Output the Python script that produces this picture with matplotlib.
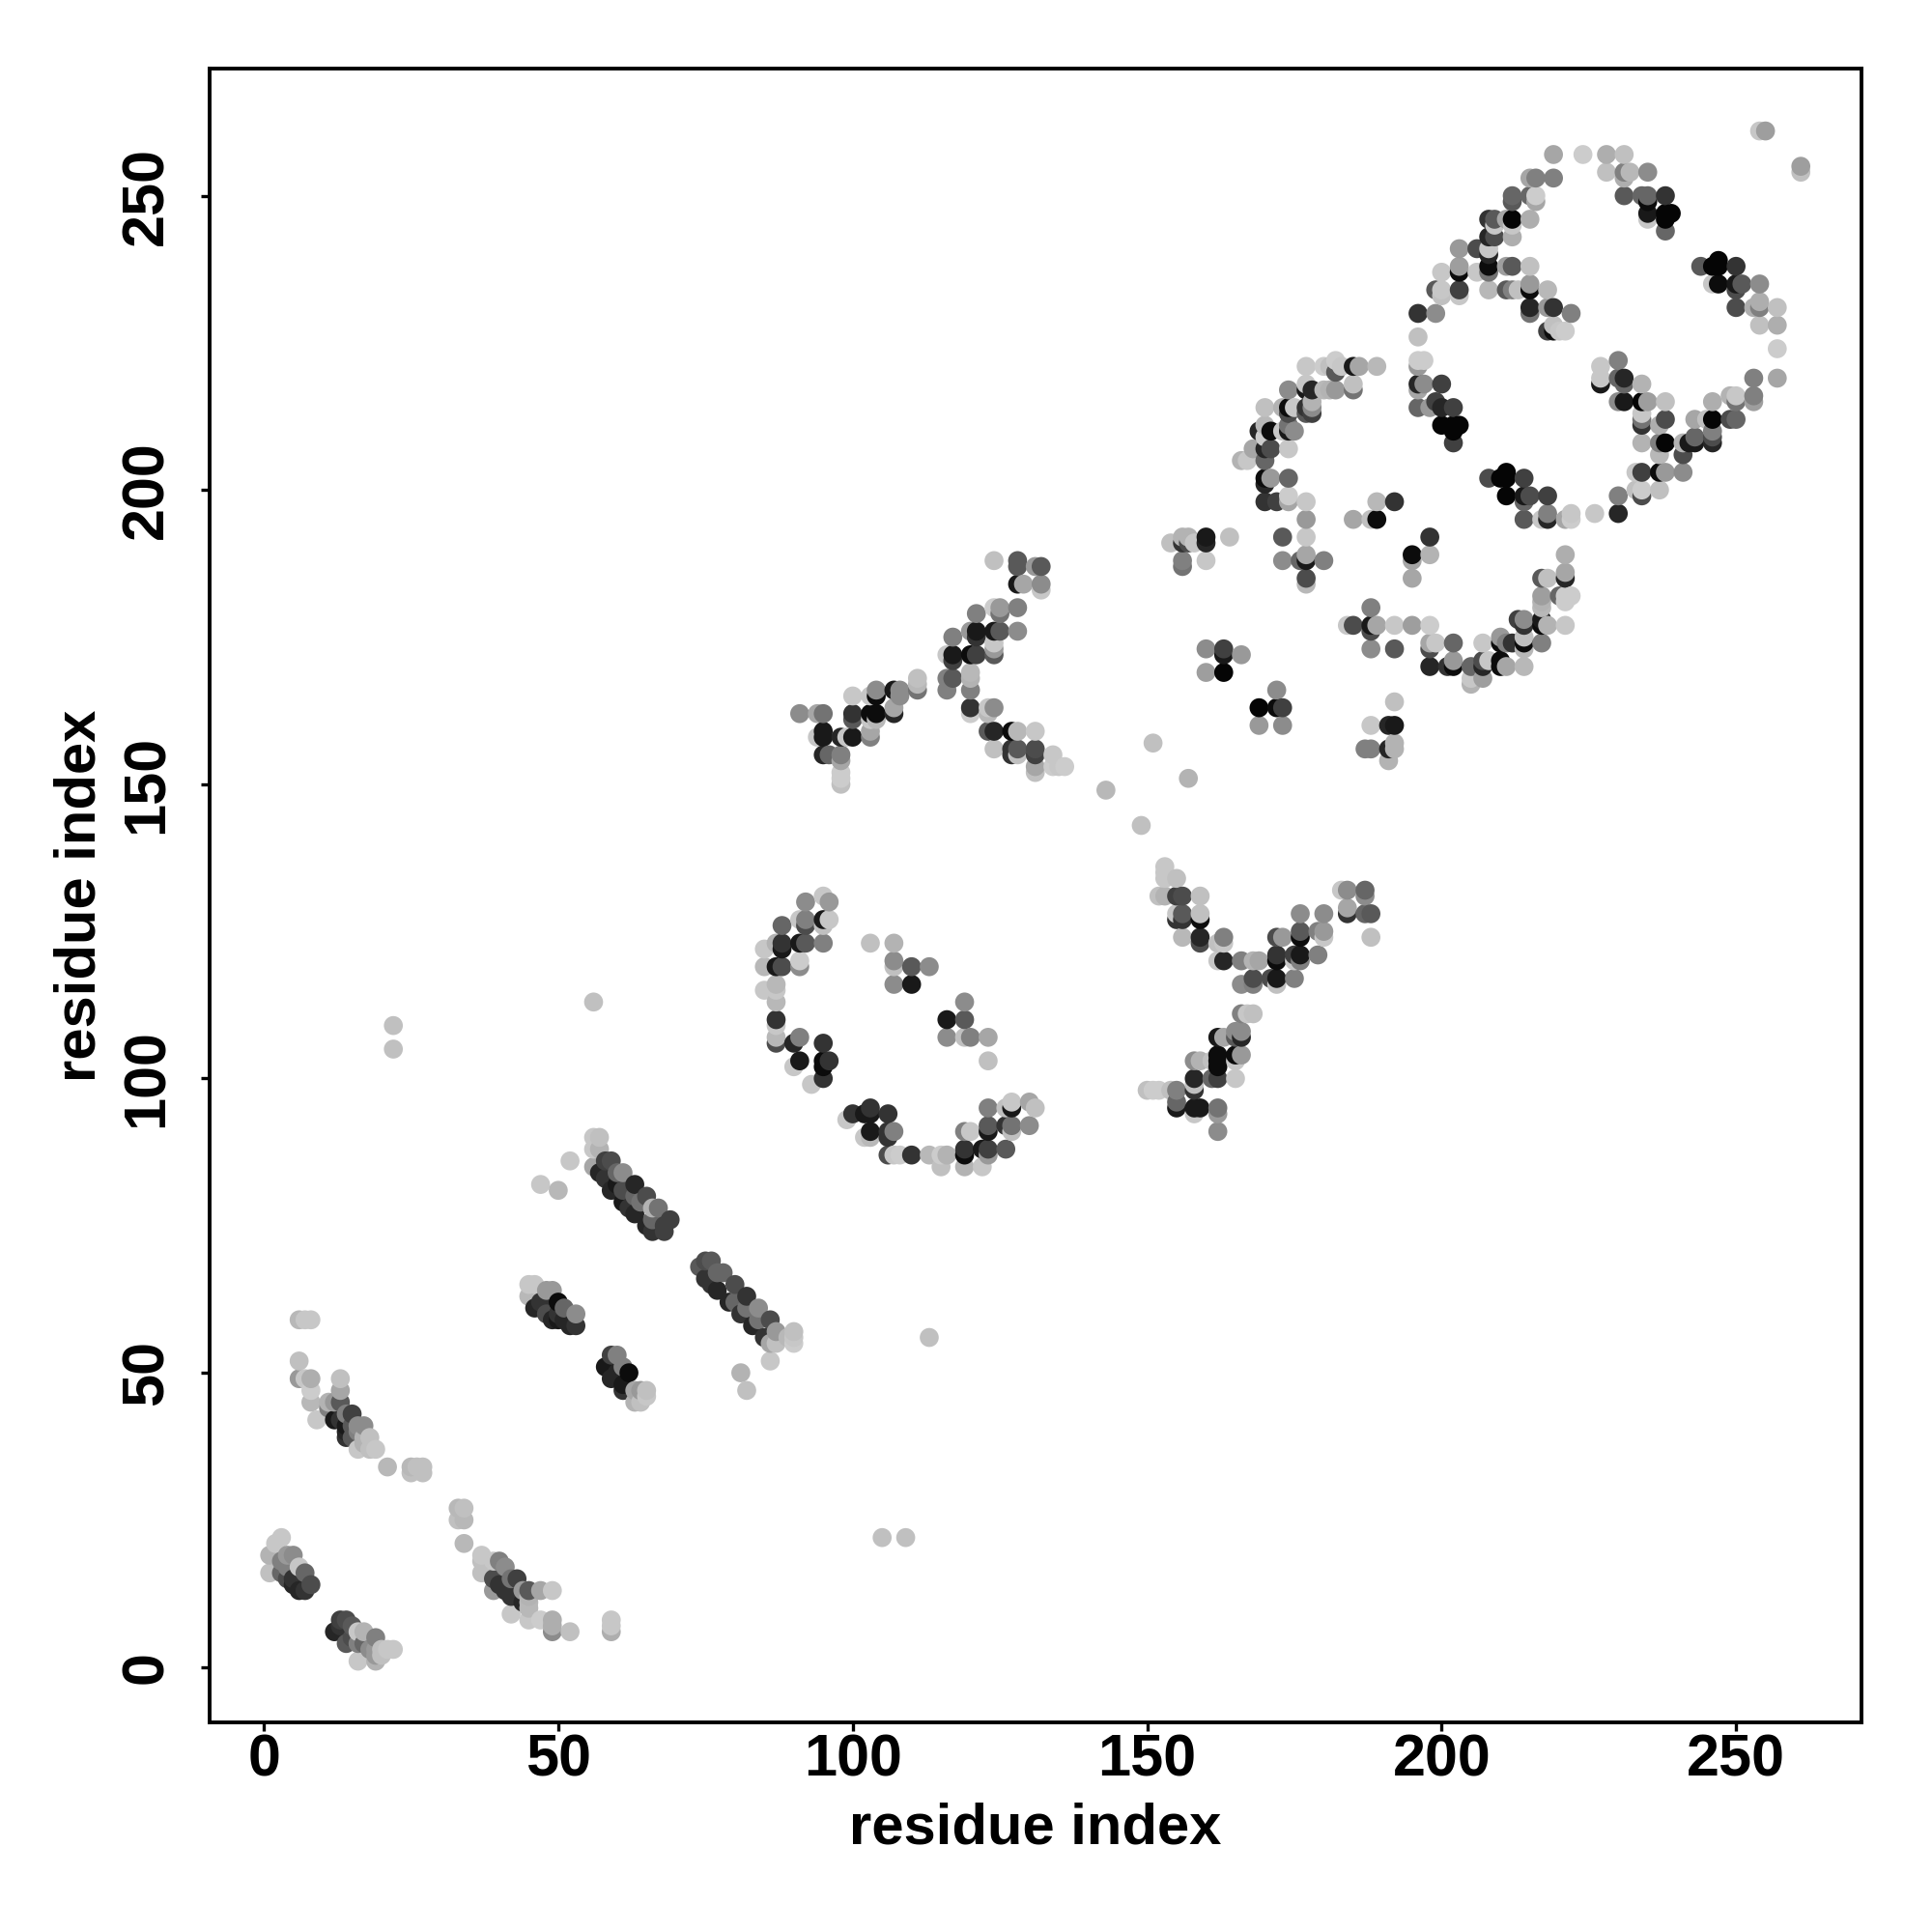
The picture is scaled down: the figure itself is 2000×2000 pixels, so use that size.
import numpy as np
import matplotlib
matplotlib.use('Agg')
from matplotlib import pyplot as plt

# (i, j, level), level 0 = black, 1 = white
strand_low = [(1,19,.7),(1,16,.75),(2,21,.78),(3,22,.78),(3,18,.5),(3,16,.4),(4,19,.6),(4,17,.5),(4,15,.3),(5,19,.55),
    (5,15,.2),(5,14,.15),(6,17,.78),(6,13,.15),(7,16,.4),(7,13,.2),(8,14,.3),
    (12,6,.15),(13,8,.25),(13,7,.2),(14,8,.3),(14,4,.35),(15,7,.35),(15,5,.3),(16,6,.78),(16,4,.5),(16,1,.78),(17,6,.7),
    (17,4,.4),(18,3,.55),(19,5,.5),(19,3,.6),(19,2,.6),(19,1,.7),(20,3,.75),(20,2,.75),(21,3,.78),(22,3,.78)]
strand_two = [(6,59,.72),(7,59,.78),(8,59,.78),(6,52,.75),(6,49,.6),(7,49,.78),(8,49,.68),(8,47,.8),(8,45,.72),
    (9,42,.78),(11,45,.7),(12,45,.6),(11,44,.5),(12,42,.1),(13,49,.75),(13,47,.65),(13,45,.35),(13,42,.2),(14,43,.5),
    (14,41,.1),(14,40,.15),(14,39,.2),(15,43,.25),(15,41,.35),(15,39,.35),(16,41,.55),(16,40,.5),(16,37,.78),(17,41,.55),
    (17,39,.7),(17,38,.7),(18,39,.75),(18,37,.75),(19,37,.78),(21,34,.72),(25,34,.72),(25,33,.75),(26,34,.75),(27,34,.75),(27,33,.75)]
strand_three = [(33,27,.72),(34,27,.75),(33,25,.75),(34,25,.72),(34,21,.72),(37,19,.78),(37,18,.75),(37,16,.75),(39,18,.78),
    (39,15,.3),(39,13,.6),(40,18,.5),(40,14,.2),(41,17,.55),(41,13,.2),(42,15,.45),(42,12,.2),(42,9,.78),(43,15,.25),
    (44,13,.6),(44,11,.15),(45,13,.35),(45,12,.7),(45,11,.72),(45,10,.72),(45,8,.78),(47,13,.65),(47,8,.8),(49,13,.78),
    (49,8,.68),(49,7,.68),(49,6,.55),(52,6,.75),(59,8,.78),(59,7,.78),(59,6,.68)]
strand_mid = [(45,65,.78),(45,63,.72),(46,65,.78),(46,61,.15),(47,62,.2),(48,64,.6),(48,60,.3),(49,64,.6),(49,59,.15),
    (50,62,.05),(50,60,.2),(50,59,.1),(51,61,.4),(51,59,.15),(52,58,.15),(53,60,.55),(53,58,.2),
    (58,51,.1),(59,53,.25),(59,49,.15),(60,53,.5),(60,50,.15),(61,51,.5),(61,48,.1),(61,47,.2),(62,50,.05),(63,47,.65),
    (63,45,.7),(64,47,.6),(64,45,.75),(65,47,.75),(65,46,.78)]
strand_long = [(47,82,.78),(50,81,.72),(52,86,.78),(56,90,.78),(56,88,.78),(56,85,.65),(57,90,.75),(57,88,.7),(57,84,.15),
    (58,86,.25),(58,83,.2),(59,86,.3),(59,81,.15),(60,84,.4),(60,82,.1),(61,84,.55),(61,81,.3),(61,79,.1),(62,78,.2),
    (63,82,.15),(63,80,.4),(63,77,.15),(64,79,.45),(65,80,.3),(65,75,.15),(66,78,.7),(66,76,.4),(66,74,.2),(67,78,.45),
    (68,75,.25),(68,74,.25),(69,76,.25),
    (74,68,.35),(75,69,.3),(75,66,.2),(76,69,.35),(76,65,.2),(77,67,.4),(77,64,.15),(78,67,.4),(79,62,.15),(80,65,.3),
    (80,62,.4),(81,60,.2),(82,63,.2),(82,61,.45),(83,58,.15),(84,61,.55),(84,59,.45),(85,56,.2),(86,59,.3),(86,55,.65),
    (86,52,.78),(87,57,.6),(87,55,.75),(89,56,.72),(90,57,.75),(90,56,.78),(90,55,.8),
    (81,50,.7),(82,47,.75),(113,56,.75),(105,22,.75),(109,22,.75),(22,109,.75),(22,105,.75),(56,113,.75)]
c_shape = [(85,122,.78),(85,119,.72),(85,115,.78),(87,123,.7),(87,119,.1),(87,116,.72),(87,115,.78),(87,113,.72),(87,110,.2),
    (87,109,.78),(87,107,.72),(87,106,.3),(88,126,.4),(88,123,.2),(88,122,.1),(88,119,.3),(90,106,.15),(90,102,.78),
    (91,127,.78),(91,123,.1),(91,120,.8),(91,119,.55),(91,107,.5),(91,103,.1),(92,130,.55),(92,127,.5),(92,126,.3),(92,123,.35),
    (93,99,.78),(95,131,.78),(95,127,.1),(95,126,.75),(95,123,.5),(95,106,.2),(95,103,.05),(95,102,.05),(95,100,.2),
    (96,130,.6),(96,127,.78),(96,103,.2),(99,93,.78),(100,94,.2),(102,94,.1),(102,90,.78),(103,123,.75),(103,95,.2),(103,94,.1),
    (103,91,.1),(103,90,.72),(106,94,.2),(106,91,.2),(106,90,.2),(106,87,.3),(107,123,.7),(107,120,.55),(107,119,.75),
    (107,116,.55),(107,91,.5),(107,87,.78),(108,87,.8),(110,119,.35),(110,116,.1),(110,87,.2),(113,119,.55),(113,87,.72),
    (115,87,.8),(115,85,.75),(116,110,.1),(116,107,.55),(116,87,.7),(119,113,.55),(119,110,.35),(119,107,.75),(119,91,.5),
    (119,88,.2),(119,87,.05),(119,85,.7),(120,107,.5),(120,91,.78),(122,88,.1),(122,85,.78),(123,107,.65),(123,103,.75),
    (123,95,.5),(123,92,.35),(123,91,.1),(123,88,.25),(123,87,.6),(126,95,.75),(126,92,.2),(126,88,.35),(127,96,.78),
    (127,95,.1),(127,92,.45),(127,91,.75),(130,96,.65),(130,92,.55),(131,95,.75)]
arm_upper = [(91,162,.55),(94,162,.65),(94,158,.78),(95,162,.45),(95,159,.1),(95,158,.1),(95,155,.15),(96,155,.4),(98,158,.15),
    (98,155,.5),(98,154,.65),(98,152,.8),(98,151,.8),(98,150,.75),(99,158,.78),(100,165,.78),(100,162,.2),(100,161,.35),(100,158,.1),
    (103,165,.78),(103,162,.05),(103,161,.78),(103,159,.65),(103,158,.5),(104,166,.55),(104,165,.05),(104,162,.05),(104,161,.72),
    (107,166,.1),(107,163,.65),(107,162,.15),(108,166,.55),(108,165,.55),(111,168,.75),(111,167,.72),(111,166,.45),
    (116,172,.78),(116,168,.5),(116,166,.5),(117,175,.5),(117,172,.1),(117,171,.25),(117,168,.35),(120,176,.6),(120,172,.05),
    (120,169,.72),(120,168,.7),(120,166,.5),(120,163,.2),(120,162,.8),(121,179,.5),(121,176,.1),(121,175,.2),(121,172,.25),
    (123,163,.78),(123,162,.72),(123,159,.35),(124,188,.75),(124,180,.8),(124,176,.1),(124,174,.78),(124,173,.6),(124,172,.35),
    (124,163,.55),(124,159,.15),(124,156,.75),(125,180,.6),(125,179,.45),(125,176,.35),(127,159,.05),(127,156,.2),(127,155,.2),
    (128,188,.35),(128,187,.35),(128,184,.1),(128,180,.5),(128,176,.55),(128,159,.72),(128,156,.35),(128,155,.75),
    (129,184,.65),(131,187,.6),(131,159,.78),(131,156,.3),(131,155,.25),(131,153,.65),(131,152,.75),(132,187,.35),
    (132,184,.55),(132,183,.78),(134,155,.78),(134,153,.8),(135,153,.78),(136,153,.8),(143,149,.72),(149,143,.75),
    (151,157,.75),(157,151,.7)]
arm_lower = [(150,98,.75),(151,98,.8),(152,131,.75),(152,98,.8),(153,136,.78),(153,135,.78),(153,134,.78),(153,131,.7),
    (154,98,.75),(155,134,.75),(155,131,.25),(155,128,.78),(155,127,.2),(155,98,.5),(155,96,.4),(155,95,.1),(156,131,.3),
    (156,128,.35),(156,127,.2),(156,124,.72),(158,103,.55),(158,100,.15),(158,99,.75),(158,98,.2),(158,95,.1),(158,94,.78),
    (159,131,.75),(159,128,.75),(159,127,.05),(159,124,.15),(159,123,.3),(159,103,.7),(159,95,.1),(161,103,.75),(161,100,.4),
    (162,123,.75),(162,120,.78),(162,107,.1),(162,104,.05),(162,103,.05),(162,102,.05),(162,100,.25),(162,95,.45),(162,94,.6),(162,91,.55),
    (163,124,.5),(163,123,.78),(163,120,.15),(163,107,.65),(165,108,.55),(165,107,.35),(165,104,.05),(165,103,.78),(165,100,.78),
    (166,120,.5),(166,116,.55),(166,111,.5),(166,108,.55),(166,107,.15),(166,104,.6),(167,111,.78),(168,120,.7),(168,117,.3),
    (168,116,.5),(168,111,.75),(169,120,.65),(171,117,.3),(172,124,.3),(172,121,.2),(172,120,.05),(172,117,.1),(172,116,.75),
    (173,124,.6),(175,121,.25),(175,120,.78),(175,117,.5),(176,128,.55),(176,125,.35),(176,124,.05),(176,121,.1),(176,120,.5),
    (179,125,.5),(179,121,.5),(180,128,.55),(180,125,.6),(180,124,.78),(183,132,.78),(184,132,.55),(184,129,.65),(184,128,.2),
    (187,132,.4),(187,131,.55),(187,128,.4),(188,128,.35),(188,124,.75)]
ring_left = [(154,191,.75),(156,192,.7),(156,191,.2),(156,188,.5),(156,187,.45),(157,192,.7),(157,191,.3),(158,191,.78),
    (160,192,.1),(160,191,.15),(160,188,.78),(164,192,.75),(160,173,.55),(160,169,.62),(163,173,.25),(163,172,.1),(163,169,.02),
    (166,205,.7),(166,172,.6),(167,205,.78),(168,207,.65),(169,210,.15),(169,163,.02),(169,160,.6),(170,214,.75),(170,211,.72),
    (170,209,.8),(170,207,.15),(170,205,.4),(170,202,.05),(170,201,.15),(170,198,.2),(171,210,.05),(171,207,.3),(171,202,.6),
    (172,198,.25),(172,166,.55),(172,163,.05),(173,214,.7),(173,210,.78),(173,192,.35),(173,188,.55),(173,163,.25),(173,160,.55),
    (174,217,.55),(174,214,.05),(174,213,.3),(174,211,.45),(174,210,.1),(174,207,.78),(174,202,.4),(174,199,.8),(174,198,.65),
    (175,214,.78),(175,210,.55),(176,188,.4),(177,221,.78),(177,218,.78),(177,217,.1),(177,214,.2),(177,213,.35),(177,198,.78),
    (177,195,.6),(177,192,.78),(177,189,.65),(177,188,.1),(177,185,.3),(177,184,.72),(178,217,.15),(178,215,.7),(178,214,.55),
    (178,213,.25),(180,221,.8),(180,217,.72),(180,188,.5),(181,221,.75),(181,217,.7),(182,222,.8),(182,220,.35),(182,217,.6),
    (183,221,.78),(184,177,.78),(185,221,.1),(185,218,.75),(185,217,.45),(185,195,.65),(185,177,.3),(186,221,.65),(187,156,.5),
    (188,195,.75),(188,180,.5),(188,177,.1),(188,176,.3),(188,173,.55),(188,160,.78),(188,156,.5),(189,221,.72),(189,198,.72),
    (189,195,.05),(189,177,.65),(191,160,.15),(191,156,.15),(191,154,.7),(192,198,.2),(192,177,.78),(192,173,.35),(192,164,.75),
    (192,160,.1),(192,157,.7),(192,156,.7)]
ring_mid = [(195,189,.05),(195,188,.65),(195,185,.65),(195,177,.62),(196,230,.2),(196,226,.75),(196,222,.8),(196,221,.6),(196,218,.15),
    (196,217,.65),(196,214,.4),(197,222,.8),(197,218,.55),(198,214,.6),(198,192,.2),(198,189,.7),(198,177,.8),(198,174,.65),
    (198,173,.3),(198,170,.15),(199,234,.35),(199,230,.55),(199,215,.25),(199,174,.78),(200,237,.78),(200,234,.78),(200,233,.75),
    (200,218,.25),(200,214,.15),(200,211,.02),(201,170,.2),(202,214,.25),
    (202,211,.02),(202,210,.02),(202,208,.25),(202,174,.4),(202,171,.6),(202,170,.05),(203,211,.02),(203,241,.6),(203,238,.62),
    (203,237,.05),(203,234,.25),(203,233,.78),(205,170,.4),(205,168,.78),(205,167,.7),(206,241,.3),(206,237,.78),(207,174,.78),
    (207,171,.3),(207,170,.15),(207,168,.62),(208,246,.2),(208,243,.15),(208,241,.78),(208,240,.15),(208,238,.05),(208,237,.45),
    (208,234,.72),(208,202,.3),(208,171,.78),(209,246,.35),(209,245,.78),(209,243,.3),(210,202,.02),(210,175,.6),(210,174,.05),
    (210,171,.05),(210,170,.05),(211,246,.65),(211,238,.62),(211,234,.35),(211,203,.02),(211,202,.02),(211,199,.02),(211,174,.5),
    (211,170,.65),(212,250,.4),(212,249,.35),(212,246,.02),(212,245,.78),(212,243,.68),(212,238,.35),(212,234,.5),(212,174,.2),
    (213,234,.75),(213,178,.25),(214,202,.25),(214,199,.1),(214,198,.4),(214,195,.35),(214,178,.55),(214,177,.2),(214,175,.75),
    (214,174,.05),(214,173,.72),(214,170,.72),(215,253,.65),(215,250,.4),(215,246,.68),(215,238,.75),(215,235,.6),(215,234,.05),
    (215,231,.15),(215,230,.45),(215,199,.3),(216,253,.5),(216,250,.8),(216,249,.65),(217,195,.78),(217,185,.35),(217,182,.62),
    (217,181,.7),(217,180,.72),(217,178,.1),(217,177,.05),(217,174,.5),(218,234,.72),(218,231,.6),(218,227,.25),(218,199,.25),
    (218,196,.5),(218,195,.15),(218,185,.75),(218,177,.7),(219,257,.65),(219,253,.5),(219,231,.2),(219,228,.75),(219,227,.05),
    (220,227,.78),(220,182,.4),(221,227,.8),(221,195,.65),(221,189,.68),(221,186,.65),(221,185,.15),(221,182,.8),(221,181,.8),
    (221,177,.78),(222,230,.5),(222,196,.78),(222,195,.8),(222,182,.8)]
ring_right = [(224,257,.8),(226,196,.78),(227,221,.78),(227,219,.78),(227,218,.1),(228,257,.68),(228,254,.75),(230,222,.5),
    (230,219,.4),(230,215,.55),(230,199,.5),(230,196,.15),(231,257,.75),(231,254,.5),(231,253,.68),(231,250,.35),(231,219,.15),
    (231,218,.4),(231,215,.1),(232,254,.72),(233,203,.78),(233,200,.75),(234,250,.4),(234,218,.7),(234,215,.02),(234,213,.78),
    (234,212,.45),(234,211,.2),(234,208,.7),(234,203,.25),(234,200,.8),(234,199,.3),(235,254,.55),(235,250,.4),(235,249,.05),
    (235,247,.1),(235,246,.78),(235,215,.62),(237,211,.68),(237,208,.5),(237,206,.72),(237,203,.05),(237,200,.75),(238,250,.2),
    (238,247,.02),(238,246,.02),(238,244,.4),(238,215,.75),(238,212,.3),(238,208,.02),(238,203,.6),(239,247,.02),(241,208,.7),
    (241,206,.3),(241,203,.55),(242,208,.1),(243,212,.65),(243,209,.4),(243,208,.1),(244,238,.35),(245,212,.75),(246,238,.02),
    (246,235,.78),(246,215,.68),(246,212,.02),(246,210,.5),(246,209,.3),(246,208,.15),(247,239,.02),(247,238,.02),(247,235,.05),
    (249,216,.7),(249,212,.3),(250,238,.2),(250,235,.1),(250,234,.3),(250,231,.3),(250,216,.78),(250,215,.45),(250,212,.4),
    (251,235,.35),(253,231,.68),(253,219,.5),(253,216,.5),(253,215,.62),(254,261,.78),(254,235,.55),(254,232,.68),(254,231,.5),
    (254,228,.75),(255,261,.62),(257,231,.75),(257,228,.68),(257,224,.8),(257,219,.65),(261,255,.62),(261,254,.75)]

x_ticks = [0, 50, 100, 150, 200, 250]
y_ticks = [0, 50, 100, 150, 200, 250]

contacts = np.array(strand_low + strand_two + strand_three + strand_mid + strand_long + c_shape
                    + arm_upper + arm_lower + ring_left + ring_mid + ring_right)
# drawn in residue order, later points sit on top
order = np.lexsort((contacts[:, 1], contacts[:, 0]))
contacts = contacts[order]

plt.rcParams['font.family'] = ['Liberation Sans', 'DejaVu Sans']
plt.rcParams['font.weight'] = 'bold'

fig = plt.figure(figsize=(10, 10), dpi=200)
ax = fig.add_axes([217 / 2000, 1 - 1783 / 2000, 1710 / 2000, 1712 / 2000])
ax.scatter(contacts[:, 0], contacts[:, 1], c=contacts[:, 2], cmap='gray', vmin=0, vmax=1, s=50, linewidths=0)

ax.set_xlim(-9.2, 271.3)
ax.set_ylim(-9.4, 271.6)
ax.set_xticks(x_ticks)
ax.set_yticks(y_ticks)
ax.tick_params(axis='both', length=3.2, width=1.2, labelsize=22)
ax.tick_params(axis='x', pad=1)
ax.tick_params(axis='y', pad=9.7)
plt.setp(ax.get_yticklabels(), rotation=90, va='center')
for s in ax.spines.values():
    s.set_linewidth(1.4)

ax.set_xlabel('residue index', fontsize=21.5, fontweight='bold')
ax.set_ylabel('residue index', fontsize=21.5, fontweight='bold')
ax.xaxis.set_label_coords(0.5, -0.048)
ax.yaxis.set_label_coords(-0.062, 0.5)

fig.savefig('out.png', dpi=200)
